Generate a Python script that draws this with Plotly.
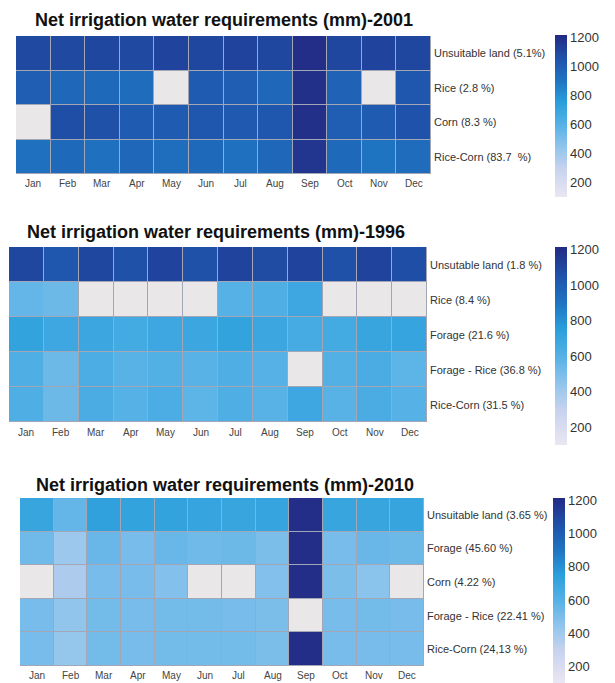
import numpy as np
import plotly.graph_objects as go

months = ["Jan", "Feb", "Mar", "Apr", "May", "Jun", "Jul", "Aug", "Sep", "Oct", "Nov", "Dec"]
N = None

# ---- 2001 ----
title_2001 = "Net irrigation water requirements (mm)-2001"
rows_2001 = ["Unsuitable land (5.1%)", "Rice (2.8 %)", "Corn (8.3 %)", "Rice-Corn (83.7  %)"]
unsuitable_2001 = [1090, 1090, 1100, 1090, 1110, 1100, 1110, 1100, 1200, 1100, 1110, 1100]
rice_2001 = [1000, 960, 950, 940, N, 1010, 1000, 960, 1190, 980, N, 1030]
corn_2001 = [N, 1070, 1060, 1010, 1010, 1030, 1020, 1030, 1190, 1000, 1010, 1050]
ricecorn_2001 = [920, 950, 920, 960, 930, 950, 920, 960, 1170, 950, 900, 940]

# ---- 1996 ----
title_1996 = "Net irrigation water requirements (mm)-1996"
rows_1996 = ["Unsutable land (1.8 %)", "Rice (8.4 %)", "Forage (21.6 %)", "Forage - Rice (36.8 %)", "Rice-Corn (31.5 %)"]
unsuitable_1996 = [1100, 1030, 1100, 1060, 1110, 1060, 1110, 1080, 1110, 1060, 1110, 1070]
rice_1996 = [560, 540, N, N, N, N, 600, 620, 680, N, N, N]
forage_1996 = [720, 680, 690, 660, 680, 690, 720, 690, 650, 660, 700, 710]
forice_1996 = [620, 540, 630, 590, 610, 590, 620, 600, N, 610, 640, 580]
ricecorn_1996 = [620, 540, 640, 600, 630, 580, 620, 590, 680, 590, 640, 600]

# ---- 2010 ----
title_2010 = "Net irrigation water requirements (mm)-2010"
rows_2010 = ["Unsuitable land (3.65 %)", "Forage (45.60 %)", "Corn (4.22 %)", "Forage - Rice (22.41 %)", "Rice-Corn (24,13 %)"]
unsuitable_2010 = [700, 560, 730, 720, 720, 710, 700, 710, 1200, 700, 700, 710]
forage_2010 = [530, 410, 550, 510, 550, 530, 540, 500, 1200, 510, 550, 540]
corn_2010 = [N, 370, 510, 510, 480, N, N, 480, 1200, 500, 460, N]
forice_2010 = [510, 440, 520, 510, 520, 520, 510, 500, N, 510, 520, 510]
ricecorn_2010 = [510, 430, 520, 510, 520, 520, 520, 500, 1200, 510, 510, 510]

colorbar_ticks = [200, 400, 600, 800, 1000, 1200]

ZMIN, ZMAX = 100, 1215
stops = [(100, "#ebe6f2"), (300, "#c6d2ee"), (450, "#8ec4ec"), (600, "#55b1e6"),
         (750, "#2a9fdc"), (900, "#1f74c2"), (1050, "#1f53ab"), (1215, "#232a84")]
cscale = [[(v - ZMIN) / (ZMAX - ZMIN), c] for v, c in stops]

# page body has an 8px margin: the figure starts at (8, 8) in the window
OFF = 8
W, H = 615 - OFF, 683 - OFF
def px(x): return (x - OFF) / W
def py(y): return 1 - (y - OFF) / H

panels = [
    dict(title=title_2001, rows=rows_2001,
         z=[unsuitable_2001, rice_2001, corn_2001, ricecorn_2001],
         x0=16, x1=431, y0=36, y1=174, tx=224, ty=20, my=184,
         cb_x=555, cb_top=35, cb_bot=197),
    dict(title=title_1996, rows=rows_1996,
         z=[unsuitable_1996, rice_1996, forage_1996, forice_1996, ricecorn_1996],
         x0=9, x1=427, y0=247, y1=422, tx=216, ty=232, my=432,
         cb_x=555, cb_top=247, cb_bot=445),
    dict(title=title_2010, rows=rows_2010,
         z=[unsuitable_2010, forage_2010, corn_2010, forice_2010, ricecorn_2010],
         x0=20, x1=424, y0=498, y1=666, tx=225, ty=485, my=675,
         cb_x=553, cb_top=498, cb_bot=683),
]

fig = go.Figure()
annotations = []
layout = dict(width=W, height=H, margin=dict(l=0, r=0, t=0, b=0),
              paper_bgcolor="white", plot_bgcolor="#a3a6b4", showlegend=False,
              font=dict(family="Liberation Sans, Arial, sans-serif", color="#333333"))

for i, p in enumerate(panels):
    n = i + 1
    xa = "x" if n == 1 else f"x{n}"
    ya = "y" if n == 1 else f"y{n}"
    ca = "coloraxis" if n == 1 else f"coloraxis{n}"
    z = np.array([[np.nan if v is None else v for v in row] for row in p["z"]], dtype=float)
    fig.add_trace(go.Heatmap(z=z, x=months, y=p["rows"], coloraxis=ca,
                             xgap=1, ygap=1, xaxis=xa, yaxis=ya, hoverongaps=False))
    miss = np.where(np.isnan(z), 1.0, np.nan)
    fig.add_trace(go.Heatmap(z=miss, x=months, y=p["rows"], showscale=False,
                             colorscale=[[0, "#e9e7e7"], [1, "#e9e7e7"]],
                             xgap=1, ygap=1, xaxis=xa, yaxis=ya, hoverongaps=False))
    layout[f"xaxis{'' if n == 1 else n}"] = dict(
        domain=[px(p["x0"]), px(p["x1"])], anchor=ya, showgrid=False, zeroline=False,
        showticklabels=False, ticks="", fixedrange=True)
    layout[f"yaxis{'' if n == 1 else n}"] = dict(
        domain=[py(p["y1"]), py(p["y0"])], anchor=xa, side="right", autorange="reversed",
        showgrid=False, zeroline=False, showticklabels=False, ticks="", fixedrange=True)
    layout[ca] = dict(
        cmin=ZMIN, cmax=ZMAX, colorscale=cscale,
        colorbar=dict(x=px(p["cb_x"]), xanchor="left", y=py(p["cb_top"]), yanchor="top",
                      len=(p["cb_bot"] - p["cb_top"]) / H, lenmode="fraction",
                      thickness=12, outlinewidth=0, tickvals=colorbar_ticks,
                      ticks="", tickfont=dict(size=13, color="#333333"), ypad=0, xpad=0))
    # month labels
    for m in months:
        annotations.append(dict(text=m, x=m, xref=xa, y=py(p["my"]), yref="paper",
                                xanchor="center", yanchor="middle", showarrow=False,
                                font=dict(size=10, color="#444444")))
    # row labels
    for r in p["rows"]:
        annotations.append(dict(text=r, y=r, yref=ya, x=px(p["x1"] + 1), xref="paper",
                                xanchor="left", yanchor="middle", showarrow=False,
                                font=dict(size=11, color="#333333")))
    annotations.append(dict(
        text=f"<b>{p['title']}</b>", x=px(p["tx"]), y=py(p["ty"]), xref="paper", yref="paper",
        xanchor="center", yanchor="middle", showarrow=False,
        font=dict(size=18, color="#111111", family="Liberation Sans, Arial, sans-serif")))

layout["annotations"] = annotations
fig.update_layout(**layout)
fig.write_html("out.html")
